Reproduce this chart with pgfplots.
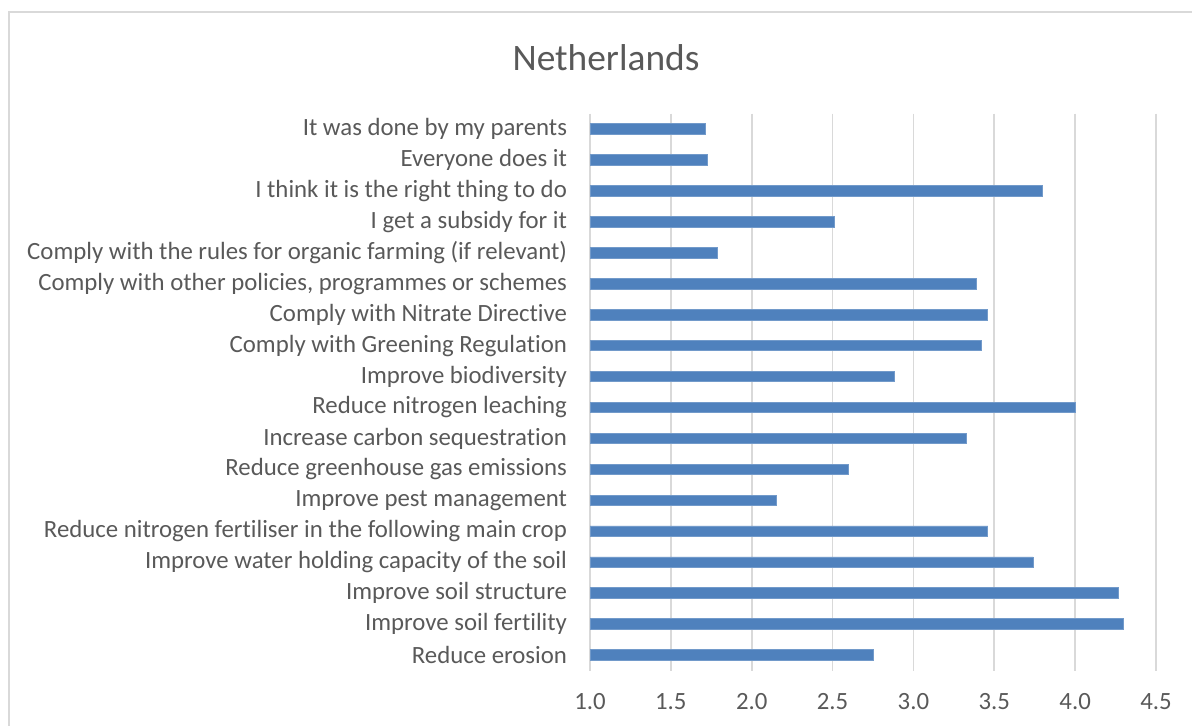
\documentclass[border=0pt]{standalone}
\usepackage{pgfplots}
\pgfplotsset{compat=1.18}
\usepackage{fontspec}
\setmainfont[Ligatures={NoCommon}]{Carlito}
\definecolor{bartxt}{HTML}{595959}
\definecolor{gridc}{HTML}{D9D9D9}
\definecolor{barc}{HTML}{4F81BD}
\begin{document}
\begin{tikzpicture}
\path[use as bounding box] (0,0) rectangle (596pt,-363pt);
\draw[gridc, line width=0.8pt] (4.5pt,-364pt) -- (4.5pt,-6pt) -- (597pt,-6pt);
\node[text=bartxt, font=\fontsize{18.7}{22}\selectfont] at (303pt,-29pt) {Netherlands};
\begin{axis}[
    at={(295pt,-335.25pt)}, anchor=south west,
    scale only axis,
    width=283pt, height=278.5pt,
    xbar, bar width=5.3pt, bar shift=0pt,
    xmin=1, xmax=4.5,
    ymin=-0.5, ymax=17.5,
    y dir=reverse,
    xtick={1,1.5,2,2.5,3,3.5,4,4.5},
    ytick={0,...,17},
    yticklabels={
        It was done by my parents,
        Everyone does it,
        I think it is the right thing to do,
        I get a subsidy for it,
        Comply with the rules for organic farming (if relevant),
        {Comply with other policies, programmes or schemes},
        Comply with Nitrate Directive,
        Comply with Greening Regulation,
        Improve biodiversity,
        Reduce nitrogen leaching,
        Increase carbon sequestration,
        Reduce greenhouse gas emissions,
        Improve pest management,
        Reduce nitrogen fertiliser in the following main crop,
        Improve water holding capacity of the soil,
        Improve soil structure,
        Improve soil fertility,
        Reduce erosion},
    /pgf/number format/assume math mode=true,
    xticklabel={\pgfmathprintnumber[fixed,fixed zerofill,precision=1]{\tick}},
    ticklabel style={text=bartxt, font=\fontsize{12.4}{14}\selectfont},
    yticklabel style={xshift=-8pt},
    xticklabel style={yshift=-8pt},
    major tick length=0pt,
    axis line style={draw=none},
    xmajorgrids, grid style={gridc, line width=0.9pt},
    clip=true,
]
\addplot[fill=barc, draw=barc!80!white, line width=0.4pt] coordinates {
    (1.715,0) (1.725,1) (3.80,2) (2.51,3) (1.79,4) (3.39,5)
    (3.46,6) (3.42,7) (2.88,8) (4.00,9) (3.33,10) (2.60,11)
    (2.15,12) (3.46,13) (3.74,14) (4.27,15) (4.30,16) (2.75,17)
};
\end{axis}
\end{tikzpicture}
\end{document}
